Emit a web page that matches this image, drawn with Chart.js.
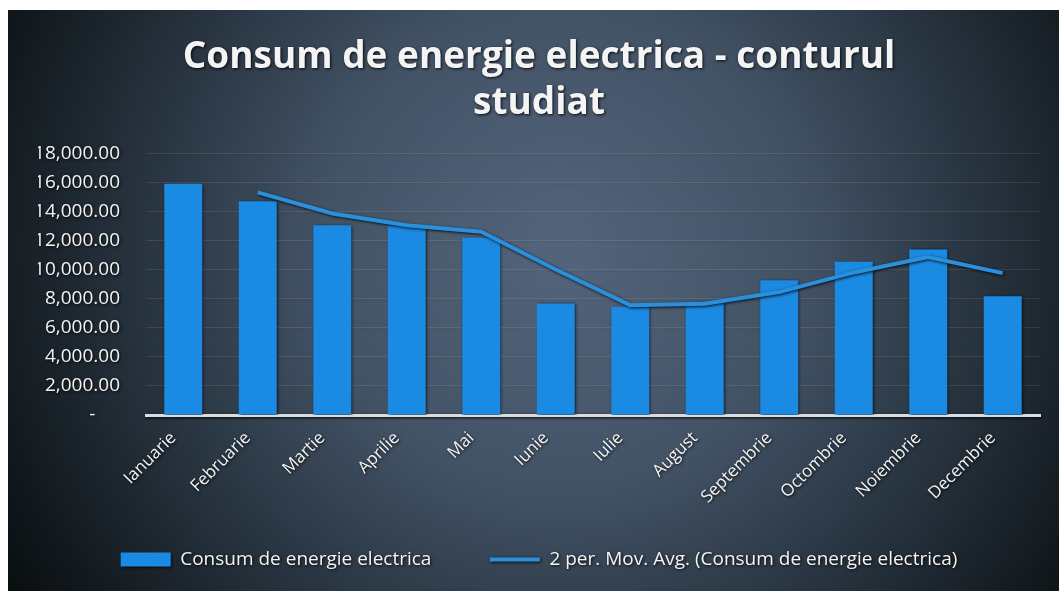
<!DOCTYPE html>
<html>
<head>
<meta charset="utf-8">
<script src="https://cdn.jsdelivr.net/npm/chart.js@4.4.1/dist/chart.umd.min.js"></script>
<style>
  html, body { margin: 0; padding: 0; background: #ffffff; }
  #wrap { width: 1059px; height: 591px; position: relative; }
</style>
</head>
<body>
<div id="wrap"><canvas id="c" width="1059" height="591"></canvas></div>
<script>
const titleLines = ['Consum de energie electrica - conturul', 'studiat'];
const months = ['Ianuarie', 'Februarie', 'Martie', 'Aprilie', 'Mai', 'Iunie', 'Iulie', 'August', 'Septembrie', 'Octombrie', 'Noiembrie', 'Decembrie'];
const consumption = [15900, 14700, 13050, 13000, 12180, 7670, 7440, 7780, 9270, 10530, 11380, 8170];
const movingAvg = [null, 15300, 13850, 13050, 12600, 10000, 7550, 7650, 8450, 9800, 10850, 9750];
const barLabel = 'Consum de energie electrica';
const lineLabel = '2 per. Mov. Avg. (Consum de energie electrica)';
const yMax = 18000;
const yStep = 2000;

const FONT = '"Open Sans", "DejaVu Sans", sans-serif';
const BAR_COLOR = '#1b8ae2';
const LINE_COLOR = '#2a90dc';
const TEXT_COLOR = '#f4f4f4';

const bgPlugin = {
  id: 'bg',
  beforeDraw(chart) {
    const ctx = chart.ctx;
    const w = chart.width, h = chart.height;
    ctx.save();
    ctx.fillStyle = '#ffffff';
    ctx.fillRect(0, 0, w, h);
    const g = ctx.createRadialGradient(560, 250, 20, 560, 250, 640);
    g.addColorStop(0, '#52637a');
    g.addColorStop(0.35, '#435366');
    g.addColorStop(0.65, '#27333f');
    g.addColorStop(1, '#0a0f11');
    ctx.fillStyle = g;
    ctx.fillRect(8, 10, w - 8, h - 10);
    ctx.restore();
  }
};

const shadowOn = {
  id: 'shadowText',
  beforeDraw(chart) {
    chart.ctx.shadowColor = 'rgba(0,0,0,0.85)';
    chart.ctx.shadowBlur = 3;
    chart.ctx.shadowOffsetX = 1;
    chart.ctx.shadowOffsetY = 1;
  }
};

new Chart(document.getElementById('c'), {
  data: {
    labels: months,
    datasets: [
      {
        type: 'line',
        label: lineLabel,
        data: movingAvg,
        borderColor: LINE_COLOR,
        backgroundColor: LINE_COLOR,
        borderWidth: 4,
        pointRadius: 0,
        tension: 0,
        order: 0
      },
      {
        type: 'bar',
        label: barLabel,
        data: consumption,
        backgroundColor: BAR_COLOR,
        borderWidth: 0,
        barPercentage: 0.51,
        categoryPercentage: 1.0,
        order: 1
      }
    ]
  },
  options: {
    responsive: false,
    animation: false,
    layout: { padding: { left: 38, right: 19, top: 10, bottom: 12 } },
    plugins: {
      tooltip: { enabled: false },
      title: {
        display: true,
        text: titleLines,
        color: TEXT_COLOR,
        font: { family: FONT, size: 37, weight: 'bold', lineHeight: 1.245 },
        padding: { top: 24, bottom: 27 }
      },
      legend: {
        position: 'bottom',
        reverse: true,
        labels: {
          color: TEXT_COLOR,
          font: { family: FONT, size: 19 },
          boxWidth: 50,
          boxHeight: 14,
          padding: 30,
          usePointStyle: true,
          pointStyleWidth: 50,
          generateLabels(chart) {
            const items = Chart.defaults.plugins.legend.labels.generateLabels(chart);
            items.forEach(it => {
              if (it.datasetIndex === 0) {
                it.pointStyle = 'line';
                it.strokeStyle = LINE_COLOR;
                it.lineWidth = 4;
              } else {
                it.pointStyle = 'rect';
                it.fillStyle = BAR_COLOR;
                it.strokeStyle = BAR_COLOR;
                it.lineWidth = 0;
                it.text = it.text + '\u2003\u2002';
              }
            });
            return items;
          }
        }
      }
    },
    scales: {
      x: {
        grid: { display: false },
        border: { display: true, color: '#d9dde2', width: 3 },
        ticks: {
          color: TEXT_COLOR,
          font: { family: FONT, size: 17 },
          minRotation: 45,
          maxRotation: 45,
          padding: 5,
          labelOffset: -10
        },
        afterFit(scale) { scale.height = 105; }
      },
      y: {
        min: 0,
        max: yMax,
        grid: { color: 'rgba(255,255,255,0.10)', lineWidth: 1, drawTicks: false },
        border: { display: false },
        ticks: {
          stepSize: yStep,
          color: TEXT_COLOR,
          font: { family: FONT, size: 19 },
          padding: 26,
          callback(v) {
            if (v === 0) return '-     ';
            return v.toLocaleString('en-US', { minimumFractionDigits: 2, maximumFractionDigits: 2 });
          }
        },
        afterFit(scale) { scale.width = 108; }
      }
    }
  },
  plugins: [bgPlugin, shadowOn]
});
</script>
</body>
</html>
